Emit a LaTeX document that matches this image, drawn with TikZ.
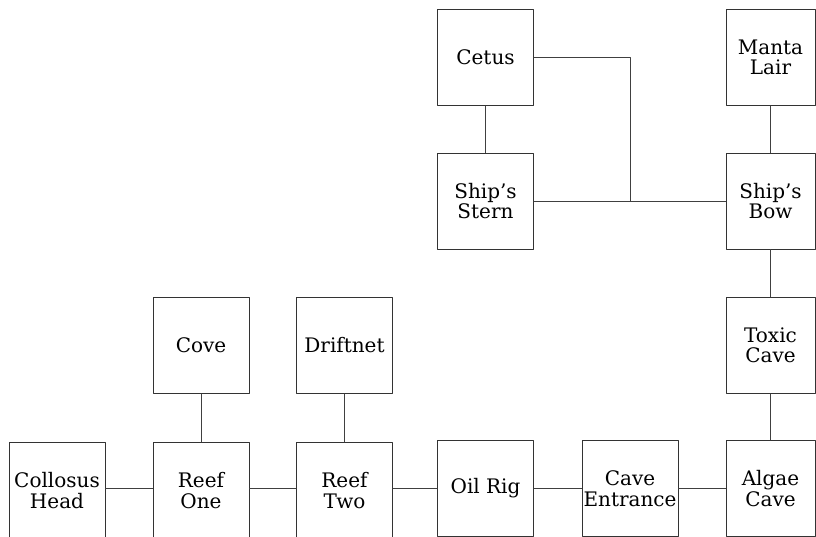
\documentclass[tikz,border=0pt]{standalone}
\usepackage{fontspec}
\setmainfont{DejaVu Serif}
\usepackage{tikz}

\begin{document}
\begin{tikzpicture}[x=1pt, y=-1pt, line width=0.8pt, line cap=round, line join=round,
  room/.style={draw=black!80, minimum width=96pt, minimum height=96pt, inner sep=0pt,
    align=center, font=\fontsize{20}{20.5}\selectfont},
  edgeroom/.style={room, minimum width=89pt},
  link/.style={draw=black!75, line width=0.7pt}]

  %% ════ 房间（行 1–4，列中心按截图量出）════
  \node[room]     (cetus)    at (485.5,57.5)  {Cetus};
  \node[edgeroom] (manta)    at (770.5,57.5)  {Manta\\Lair};
  \node[room]     (stern)    at (485.5,201.0) {Ship's\\Stern};
  \node[edgeroom] (bow)      at (770.5,201.0) {Ship's\\Bow};
  \node[room]     (cove)     at (201.0,345.5) {Cove};
  \node[room]     (driftnet) at (344.5,345.5) {Driftnet};
  \node[edgeroom] (toxic)    at (770.5,345.5) {Toxic\\Cave};
  %% 底行：左三个下边框在画布外，右三个落在画布内
  \begin{scope}[every node/.append style={minimum height=97pt}]
  \node[room]     (colossus) at (57.0,490.5)  {Collosus\\Head};
  \node[room]     (reefone)  at (201.0,490.5) {Reef\\One};
  \node[room]     (reeftwo)  at (344.5,490.5) {Reef\\Two};
  \end{scope}
  \begin{scope}[every node/.append style={minimum height=93pt}]
  \node[room]     (oilrig)   at (485.5,488.5) {Oil Rig};
  \node[room]     (caveent)  at (630.0,488.5) {Cave\\Entrance};
  \node[edgeroom] (algae)    at (770.5,488.5) {Algae\\Cave};
  \end{scope}

  %% ════ 连线 ════
  \coordinate (jn) at (630.0,201.0);
  \draw[link] (cetus) -- (stern);
  \draw[link] (stern) -- (bow);
  \draw[link] (cetus.east) -| (jn);
  \draw[link] (manta) -- (bow);
  \draw[link] (bow) -- (toxic);
  \draw[link] (toxic) -- (algae);
  \draw[link] (cove) -- (reefone);
  \draw[link] (driftnet) -- (reeftwo);
  \draw[link] (colossus.east |- oilrig) -- (reefone.west |- oilrig);
  \draw[link] (reefone.east |- oilrig) -- (reeftwo.west |- oilrig);
  \draw[link] (reeftwo.east |- oilrig) -- (oilrig);
  \draw[link] (oilrig) -- (caveent);
  \draw[link] (caveent) -- (algae);

  % 钉死画布
  \pgfresetboundingbox
  \path[use as bounding box] (0,0) rectangle (816,537);
\end{tikzpicture}
\end{document}
